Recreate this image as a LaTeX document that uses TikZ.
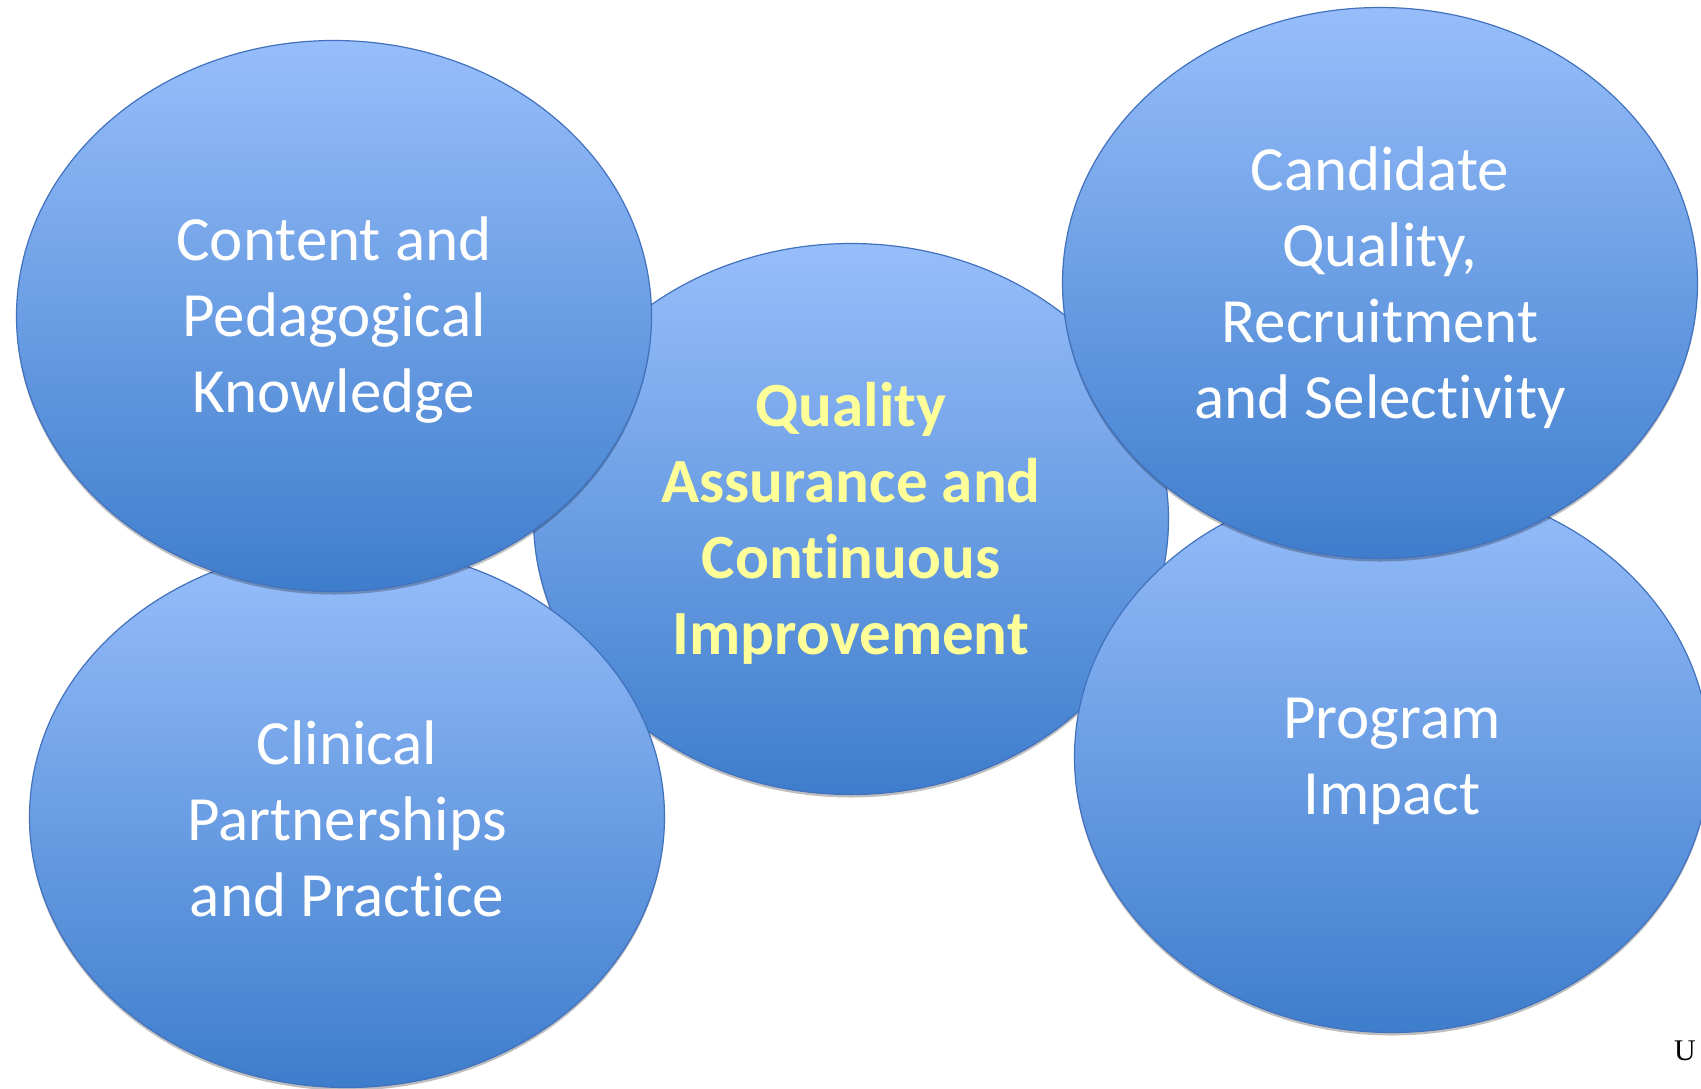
\documentclass[tikz,border=0pt]{standalone}
\usepackage{fontspec}
\setmainfont{Carlito}[Ligatures=NoCommon]
\newfontfamily\serifU{Liberation Serif}
\usetikzlibrary{shapes.geometric,shadows}
\definecolor{bubtop}{RGB}{151,190,251}
\definecolor{bubbot}{RGB}{62,125,204}
\definecolor{bubline}{RGB}{66,113,190}
\definecolor{qayellow}{RGB}{255,255,153}
\tikzset{
  bubble/.style={ellipse, draw=bubline, line width=1.2pt,
    top color=bubtop, bottom color=bubbot,
    minimum width=635pt, minimum height=551pt, inner sep=0pt,
    drop shadow={shadow xshift=0pt, shadow yshift=-3pt, opacity=0.25, fill=black}},
  bubtext/.style={align=center, text=white, inner sep=0pt,
    font=\fontsize{63}{76}\selectfont},
  coretext/.style={bubtext, text=qayellow, font=\fontsize{63}{76}\selectfont\bfseries}
}
\begin{document}
\begin{tikzpicture}[x=1pt,y=-1pt]
\useasboundingbox (0,0) rectangle (1701,1088);
\node[bubble] (qa) at (851,519) {};
\node[coretext] (qat) at ([yshift=-4.5pt]qa.center) {Quality\\Assurance and\\Continuous\\Improvement};
\node[bubble, minimum height=541pt] (cp) at (347,817) {};
\node[bubtext] (cpt) at ([yshift=-2pt]cp.center) {Clinical\\Partnerships\\and Practice};
\node[bubble] (ck) at (334,316) {};
\node[bubtext] (ckt) at ([yshift=-4.5pt]ck.center) {Content and\\Pedagogical\\Knowledge};
\node[bubble] (pi) at (1392,757) {};
\node[bubtext] (pit) at ([yshift=-4.5pt]pi.center) {Program\\Impact};
\node[bubble] (cq) at (1380,283) {};
\node[bubtext] (cqt) at ([yshift=-4.5pt]cq.center) {Candidate\\Quality,\\Recruitment\\and Selectivity};
\node[font=\serifU\fontsize{30}{36}\selectfont, inner sep=0pt] (u) at (1685,1051) {U};
\end{tikzpicture}
\end{document}
